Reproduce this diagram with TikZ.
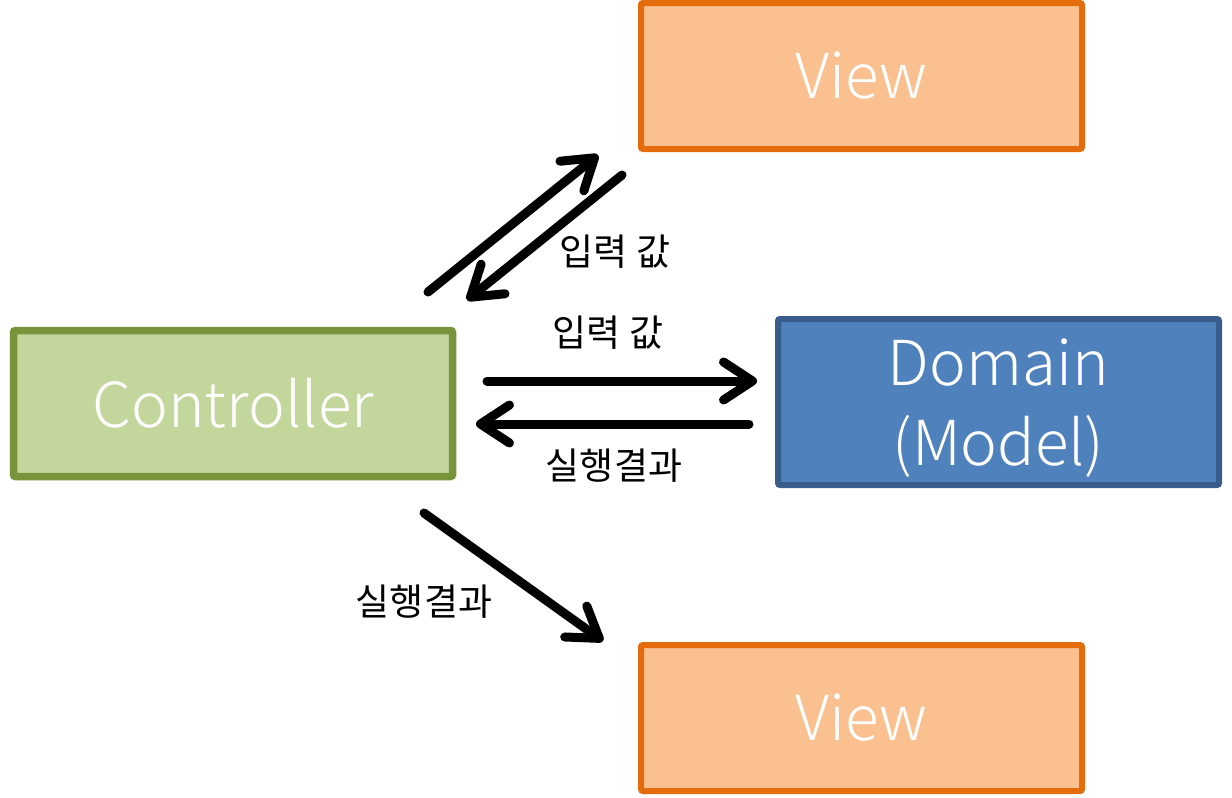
\documentclass[tikz,border=0pt]{standalone}
\usepackage{fontspec}
\setmainfont{Noto Sans CJK KR}
\newfontfamily\lightfont{Noto Sans CJK KR Light}
\usetikzlibrary{arrows.meta}
\definecolor{viewfill}{HTML}{FAC090}
\definecolor{viewline}{HTML}{E46C0A}
\definecolor{ctrlfill}{HTML}{C3D69B}
\definecolor{ctrlline}{HTML}{77933C}
\definecolor{domfill}{HTML}{4F81BD}
\definecolor{domline}{HTML}{385D8A}
\tikzset{
  box/.style={rectangle, rounded corners=2pt, text=white, font=\lightfont\fontsize{62}{80}\selectfont, align=center, inner sep=0pt},
  viewbox/.style={box, fill=viewfill, draw=viewline, line width=6pt, minimum width=441pt, minimum height=146pt},
  ctrlbox/.style={box, fill=ctrlfill, draw=ctrlline, line width=7.5pt, minimum width=439pt, minimum height=146pt},
  dombox/.style={box, fill=domfill, draw=domline, line width=6pt, minimum width=441pt, minimum height=166pt},
  conn/.style={line width=9pt, line cap=round, line join=round, -{Straight Barb[length=29pt, width=38pt, line cap=round, line join=round]}},
  lbl/.style={font=\fontsize{37}{44}\selectfont, inner sep=0pt}
}
\begin{document}
\begin{tikzpicture}[x=1pt, y=-1pt]
\useasboundingbox (0,0) rectangle (1232,798);
\node[viewbox] (view1) at (861.5,76) {View};
\node[viewbox] (view2) at (861.5,718) {View};
\node[ctrlbox] (ctrl) at (233,403.5) {Controller};
\node[dombox] (dom) at (998.5,402) {};
\node[box] (domtext) at (998.5,408) {Domain\\(Model)};
\coordinate (a1s) at (428,292);
\coordinate (a1e) at (598,155);
\coordinate (a2s) at (622,175);
\coordinate (a2e) at (467,300);
\coordinate (a3s) at (487,381);
\coordinate (a3e) at (757,381);
\coordinate (a4s) at (749,424);
\coordinate (a4e) at (476,424);
\coordinate (a5s) at (424,513);
\coordinate (a5e) at (603,641);
\draw[conn] (a1s) -- (a1e);
\draw[conn] (a2s) -- (a2e);
\draw[conn] (a3s) -- (a3e);
\draw[conn] (a4s) -- (a4e);
\draw[conn] (a5s) -- (a5e);
\node[lbl] (l1) at (615,252) {입력 값};
\node[lbl] (l2) at (608,333) {입력 값};
\node[lbl] (l3) at (614,466) {실행결과};
\node[lbl] (l4) at (424,602) {실행결과};
\end{tikzpicture}
\end{document}
